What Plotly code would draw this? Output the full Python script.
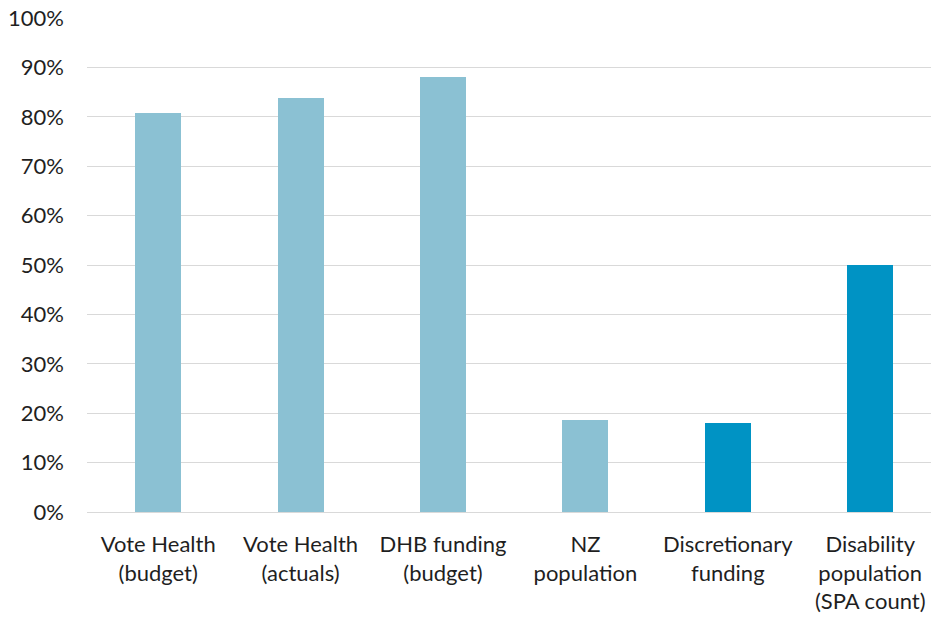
import plotly.graph_objects as go

categories = ["Vote Health<br>(budget)", "Vote Health<br>(actuals)", "DHB funding<br>(budget)",
              "NZ<br>population", "Discretionary<br>funding", "Disability<br>population<br>(SPA count)"]
values = [0.808, 0.838, 0.881, 0.186, 0.180, 0.500]
bar_colors = ["#8BC1D3", "#8BC1D3", "#8BC1D3", "#8BC1D3", "#0093C4", "#0093C4"]
y_ticks = [i / 10 for i in range(11)]
y_tick_labels = [f"{i*10}%" for i in range(11)]

fig = go.Figure(go.Bar(
    x=list(range(len(categories))), y=values,
    marker=dict(color=bar_colors, line=dict(width=0)),
    width=0.323,
))

fig.update_layout(
    width=931, height=620,
    margin=dict(l=87, r=0, t=18, b=108),
    paper_bgcolor="white", plot_bgcolor="white",
    font=dict(family="Lato, Open Sans, sans-serif", size=22, color="#1f1f1f"),
    showlegend=False,
    bargap=0,
)
fig.update_xaxes(
    tickmode="array", tickvals=list(range(len(categories))), ticktext=categories,
    range=[-0.5, -0.5 + 844 / 142.4],
    showgrid=False, zeroline=False, showline=False, ticks="", tickangle=0,
    ticklabelstandoff=17,
)
fig.update_yaxes(
    range=[0, 1.0], tickvals=y_ticks, ticktext=y_tick_labels,
    showgrid=True, gridcolor="#D9D9D9", gridwidth=1.3,
    zeroline=True, zerolinecolor="#D9D9D9", zerolinewidth=1.3,
    showline=False, ticks="", ticklabelstandoff=22,
)

fig.write_html("out.html")
